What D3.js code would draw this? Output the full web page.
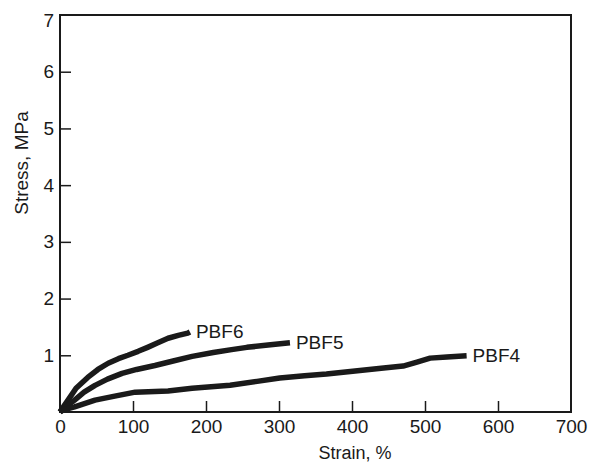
<!DOCTYPE html>
<html>
<head>
<meta charset="utf-8">
<script src="https://cdn.jsdelivr.net/npm/d3@7"></script>
<style>
body{margin:0;background:#fff;}
svg{display:block;font-family:"Liberation Sans",Arial,sans-serif;}
</style>
</head>
<body>
<svg id="chart" width="597" height="464"></svg>
<script>
const xTicks = [0,100,200,300,400,500,600,700];
const yTicks = [1,2,3,4,5,6,7];
const seriesNames = ["PBF6","PBF5","PBF4"];
const pbf6Strain = [0,3,11,22,38,52,66,80,93,107,120,134,148,162,175,178];
const pbf6Stress = [0,0.06,0.21,0.42,0.61,0.75,0.86,0.94,1.0,1.07,1.14,1.22,1.30,1.35,1.39,1.41];
const pbf5Strain = [0,4,20,33,48,65,85,105,130,155,181,210,235,256,285,315];
const pbf5Stress = [0,0.05,0.21,0.35,0.47,0.58,0.68,0.75,0.82,0.90,0.98,1.05,1.10,1.14,1.18,1.22];
const pbf4Strain = [0,5,20,48,75,103,148,181,233,270,301,335,365,401,440,470,489,507,530,557];
const pbf4Stress = [0,0.04,0.09,0.21,0.28,0.35,0.37,0.42,0.47,0.54,0.60,0.64,0.67,0.72,0.77,0.81,0.88,0.95,0.97,0.99];

const svg = d3.select("#chart");
const L=60, R=571, T=15, B=412;
const x = d3.scaleLinear().domain([0,700]).range([L,R]);
const y = d3.scaleLinear().domain([0,7]).range([B,T]);
const ink = "#1a1a1a";
const font = "Liberation Sans, Arial, sans-serif";

// frame
svg.append("rect").attr("x",L).attr("y",T).attr("width",R-L).attr("height",B-T)
  .attr("fill","none").attr("stroke",ink).attr("stroke-width",2);

// x axis with inward ticks
const xAxis = svg.append("g").attr("transform",`translate(0,${B})`)
  .call(d3.axisBottom(x).tickValues(xTicks).tickSizeInner(-11).tickSizeOuter(0).tickPadding(6).tickFormat(d3.format("d")));
xAxis.select(".domain").remove();
xAxis.selectAll(".tick line").attr("stroke",ink).attr("stroke-width",1.5);
xAxis.selectAll(".tick").filter(d=>d===0||d===700).select("line").remove();
xAxis.selectAll("text").attr("y",21).attr("dy",0).attr("font-size",19).attr("fill",ink).attr("font-family",font);

const yAxis = svg.append("g").attr("transform",`translate(${L},0)`)
  .call(d3.axisLeft(y).tickValues(yTicks).tickSizeInner(-11).tickSizeOuter(0).tickPadding(6).tickFormat(d3.format("d")));
yAxis.select(".domain").remove();
yAxis.selectAll(".tick line").attr("stroke",ink).attr("stroke-width",1.5);
yAxis.selectAll(".tick").filter(d=>d===7).select("line").remove();
yAxis.selectAll("text").attr("font-size",19).attr("fill",ink).attr("font-family",font);
yAxis.selectAll(".tick").filter(d=>d===7).select("text").attr("dy","0.62em");

// axis titles
svg.append("text").attr("x",355).attr("y",459).attr("text-anchor","middle")
  .attr("font-size",18).attr("fill",ink).text("Strain, %");
svg.append("text").attr("transform","translate(28,163) rotate(-90)").attr("text-anchor","middle")
  .attr("font-size",19).attr("fill",ink).text("Stress, MPa");

// curves
const line = d3.line().x(d=>x(d[0])).y(d=>y(d[1])).curve(d3.curveLinear);
const data = [
  {name:seriesNames[0], pts:d3.zip(pbf6Strain,pbf6Stress)},
  {name:seriesNames[1], pts:d3.zip(pbf5Strain,pbf5Stress)},
  {name:seriesNames[2], pts:d3.zip(pbf4Strain,pbf4Stress)}
];
data.forEach(s=>{
  svg.append("path").datum(s.pts).attr("d",line).attr("fill","none")
    .attr("stroke",ink).attr("stroke-width",5.5).attr("stroke-linejoin","round");
  const last = s.pts[s.pts.length-1];
  svg.append("text").attr("x",x(last[0])+6).attr("y",y(last[1])+6)
    .attr("font-size",19).attr("fill",ink).text(s.name);
});
</script>
</body>
</html>
